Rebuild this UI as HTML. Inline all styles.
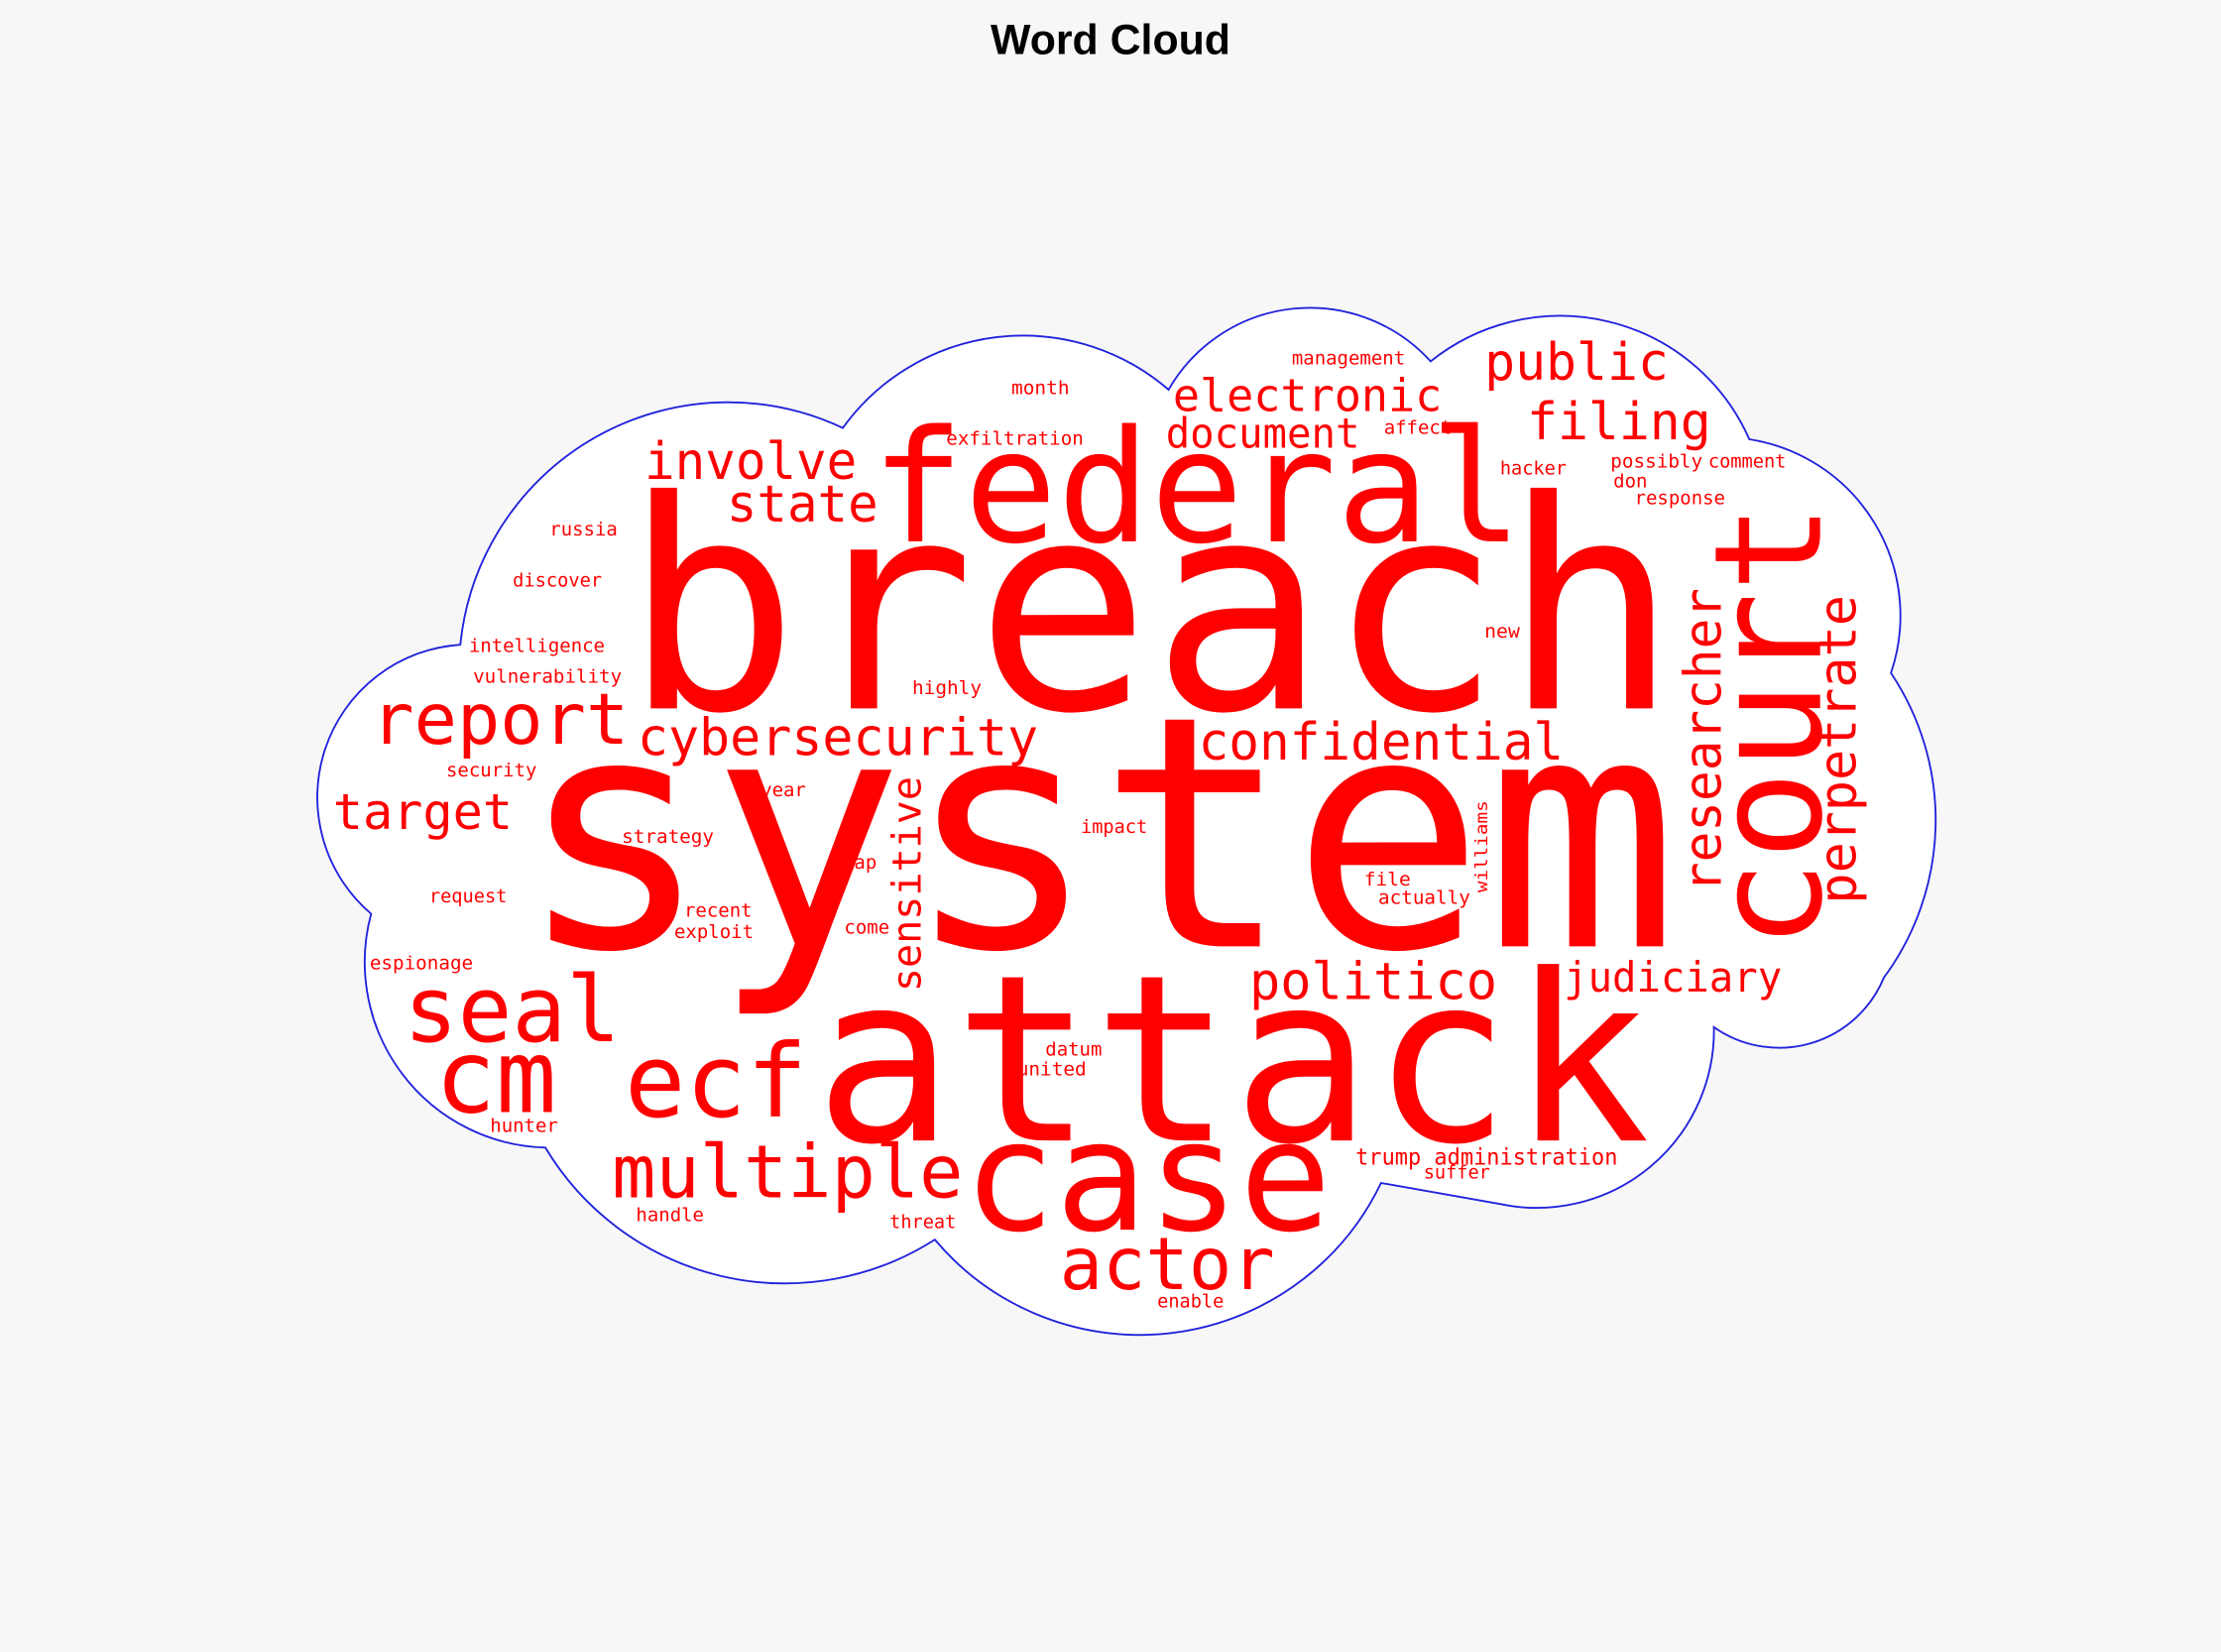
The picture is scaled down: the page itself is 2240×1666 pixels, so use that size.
<!DOCTYPE html>
<html><head><meta charset="utf-8"><style>
html,body{margin:0;padding:0;background:#f7f7f7;}
svg{display:block;}
.w{fill:#ff0000;font-family:"DejaVu Sans Mono","Liberation Mono",monospace;}
</style></head><body>
<svg width="2240" height="1666" viewBox="0 0 1568 1166" xmlns="http://www.w3.org/2000/svg">
<rect width="1568" height="1166" fill="#f7f7f7"/>
<text x="784" y="38" text-anchor="middle" font-family="Liberation Sans, Arial, sans-serif" font-weight="bold" font-size="30" fill="#000">Word Cloud</text>
<path d="M262 645 A108 108 0 0 1 325 455 A190 190 0 0 1 595 302 A157 157 0 0 1 825 275 A115 115 0 0 1 1010 255 A146 146 0 0 1 1235 310 A126 126 0 0 1 1335 475 A187 187 0 0 1 1330 690 A80 80 0 0 1 1210 725 A125 125 0 0 1 1060 850 L975 835 A189 189 0 0 1 660 875 A197 197 0 0 1 385 810 A131 131 0 0 1 262 645 Z" fill="#fff" stroke="#2222dd" stroke-width="1.3"/>
<g class="w">
<text x="440" y="500" font-size="205" textLength="745" lengthAdjust="spacingAndGlyphs">breach</text>
<text x="365" y="668" font-size="228" textLength="820" lengthAdjust="spacingAndGlyphs">system</text>
<text x="575" y="805" font-size="164" textLength="590" lengthAdjust="spacingAndGlyphs">attack</text>
<text x="615" y="382" font-size="110" textLength="460" lengthAdjust="spacingAndGlyphs">federal</text>
<text x="680" y="868" font-size="108" textLength="260" lengthAdjust="spacingAndGlyphs">case</text>
<text transform="translate(1285,670) rotate(-90)" font-size="105" textLength="315" lengthAdjust="spacingAndGlyphs">court</text>
<text transform="translate(1310,638) rotate(-90)" font-size="36" textLength="218" lengthAdjust="spacingAndGlyphs">perpetrate</text>
<text transform="translate(1215,630) rotate(-90)" font-size="36" textLength="215" lengthAdjust="spacingAndGlyphs">researcher</text>
<text transform="translate(650,700) rotate(-90)" font-size="28" textLength="152" lengthAdjust="spacingAndGlyphs">sensitive</text>
<text transform="translate(1050,630) rotate(-90)" font-size="12" textLength="65" lengthAdjust="spacingAndGlyphs">williams</text>
<text x="828" y="290" font-size="32" textLength="190" lengthAdjust="spacingAndGlyphs">electronic</text>
<text x="1048" y="268" font-size="36" textLength="130" lengthAdjust="spacingAndGlyphs">public</text>
<text x="1078" y="310" font-size="36" textLength="130" lengthAdjust="spacingAndGlyphs">filing</text>
<text x="823" y="316" font-size="29" textLength="137" lengthAdjust="spacingAndGlyphs">document</text>
<text x="455" y="338" font-size="36" textLength="150" lengthAdjust="spacingAndGlyphs">involve</text>
<text x="513" y="368" font-size="36" textLength="107" lengthAdjust="spacingAndGlyphs">state</text>
<text x="262" y="525" font-size="50" textLength="182" lengthAdjust="spacingAndGlyphs">report</text>
<text x="450" y="533" font-size="36" textLength="283" lengthAdjust="spacingAndGlyphs">cybersecurity</text>
<text x="846" y="536" font-size="36" textLength="258" lengthAdjust="spacingAndGlyphs">confidential</text>
<text x="235" y="585" font-size="35" textLength="127" lengthAdjust="spacingAndGlyphs">target</text>
<text x="285" y="735" font-size="64" textLength="153" lengthAdjust="spacingAndGlyphs">seal</text>
<text x="307" y="785" font-size="72" textLength="86" lengthAdjust="spacingAndGlyphs">cm</text>
<text x="441" y="788" font-size="72" textLength="129" lengthAdjust="spacingAndGlyphs">ecf</text>
<text x="432" y="845" font-size="52" textLength="248" lengthAdjust="spacingAndGlyphs">multiple</text>
<text x="748" y="910" font-size="51" textLength="152" lengthAdjust="spacingAndGlyphs">actor</text>
<text x="882" y="705" font-size="36" textLength="175" lengthAdjust="spacingAndGlyphs">politico</text>
<text x="1104" y="700" font-size="29" textLength="154" lengthAdjust="spacingAndGlyphs">judiciary</text>
<text x="957" y="822" font-size="16" textLength="185" lengthAdjust="spacingAndGlyphs">trump administration</text>
<g font-size="13">
<text x="1005" y="832" textLength="47" lengthAdjust="spacingAndGlyphs">suffer</text>
<text x="912" y="257" textLength="80" lengthAdjust="spacingAndGlyphs">management</text>
<text x="714" y="278" textLength="41" lengthAdjust="spacingAndGlyphs">month</text>
<text x="668" y="314" textLength="97" lengthAdjust="spacingAndGlyphs">exfiltration</text>
<text x="977" y="306" textLength="48" lengthAdjust="spacingAndGlyphs">affect</text>
<text x="1059" y="335" textLength="47" lengthAdjust="spacingAndGlyphs">hacker</text>
<text x="1137" y="330" textLength="65" lengthAdjust="spacingAndGlyphs">possibly</text>
<text x="1206" y="330" textLength="55" lengthAdjust="spacingAndGlyphs">comment</text>
<text x="1139" y="344" textLength="24" lengthAdjust="spacingAndGlyphs">don</text>
<text x="1154" y="356" textLength="64" lengthAdjust="spacingAndGlyphs">response</text>
<text x="388" y="378" textLength="48" lengthAdjust="spacingAndGlyphs">russia</text>
<text x="362" y="414" textLength="63" lengthAdjust="spacingAndGlyphs">discover</text>
<text x="331" y="460" textLength="96" lengthAdjust="spacingAndGlyphs">intelligence</text>
<text x="334" y="482" textLength="105" lengthAdjust="spacingAndGlyphs">vulnerability</text>
<text x="644" y="490" textLength="49" lengthAdjust="spacingAndGlyphs">highly</text>
<text x="1048" y="450" textLength="25" lengthAdjust="spacingAndGlyphs">new</text>
<text x="315" y="548" textLength="64" lengthAdjust="spacingAndGlyphs">security</text>
<text x="537" y="562" textLength="32" lengthAdjust="spacingAndGlyphs">year</text>
<text x="763" y="588" textLength="47" lengthAdjust="spacingAndGlyphs">impact</text>
<text x="439" y="595" textLength="65" lengthAdjust="spacingAndGlyphs">strategy</text>
<text x="595" y="613" textLength="24" lengthAdjust="spacingAndGlyphs">gap</text>
<text x="303" y="637" textLength="55" lengthAdjust="spacingAndGlyphs">request</text>
<text x="963" y="625" textLength="33" lengthAdjust="spacingAndGlyphs">file</text>
<text x="973" y="638" textLength="65" lengthAdjust="spacingAndGlyphs">actually</text>
<text x="483" y="647" textLength="48" lengthAdjust="spacingAndGlyphs">recent</text>
<text x="476" y="662" textLength="56" lengthAdjust="spacingAndGlyphs">exploit</text>
<text x="596" y="659" textLength="32" lengthAdjust="spacingAndGlyphs">come</text>
<text x="261" y="684" textLength="73" lengthAdjust="spacingAndGlyphs">espionage</text>
<text x="738" y="745" textLength="40" lengthAdjust="spacingAndGlyphs">datum</text>
<text x="718" y="759" textLength="49" lengthAdjust="spacingAndGlyphs">united</text>
<text x="346" y="799" textLength="48" lengthAdjust="spacingAndGlyphs">hunter</text>
<text x="449" y="862" textLength="48" lengthAdjust="spacingAndGlyphs">handle</text>
<text x="628" y="867" textLength="47" lengthAdjust="spacingAndGlyphs">threat</text>
<text x="817" y="923" textLength="47" lengthAdjust="spacingAndGlyphs">enable</text>
</g>
</g>
</svg>
</body></html>
